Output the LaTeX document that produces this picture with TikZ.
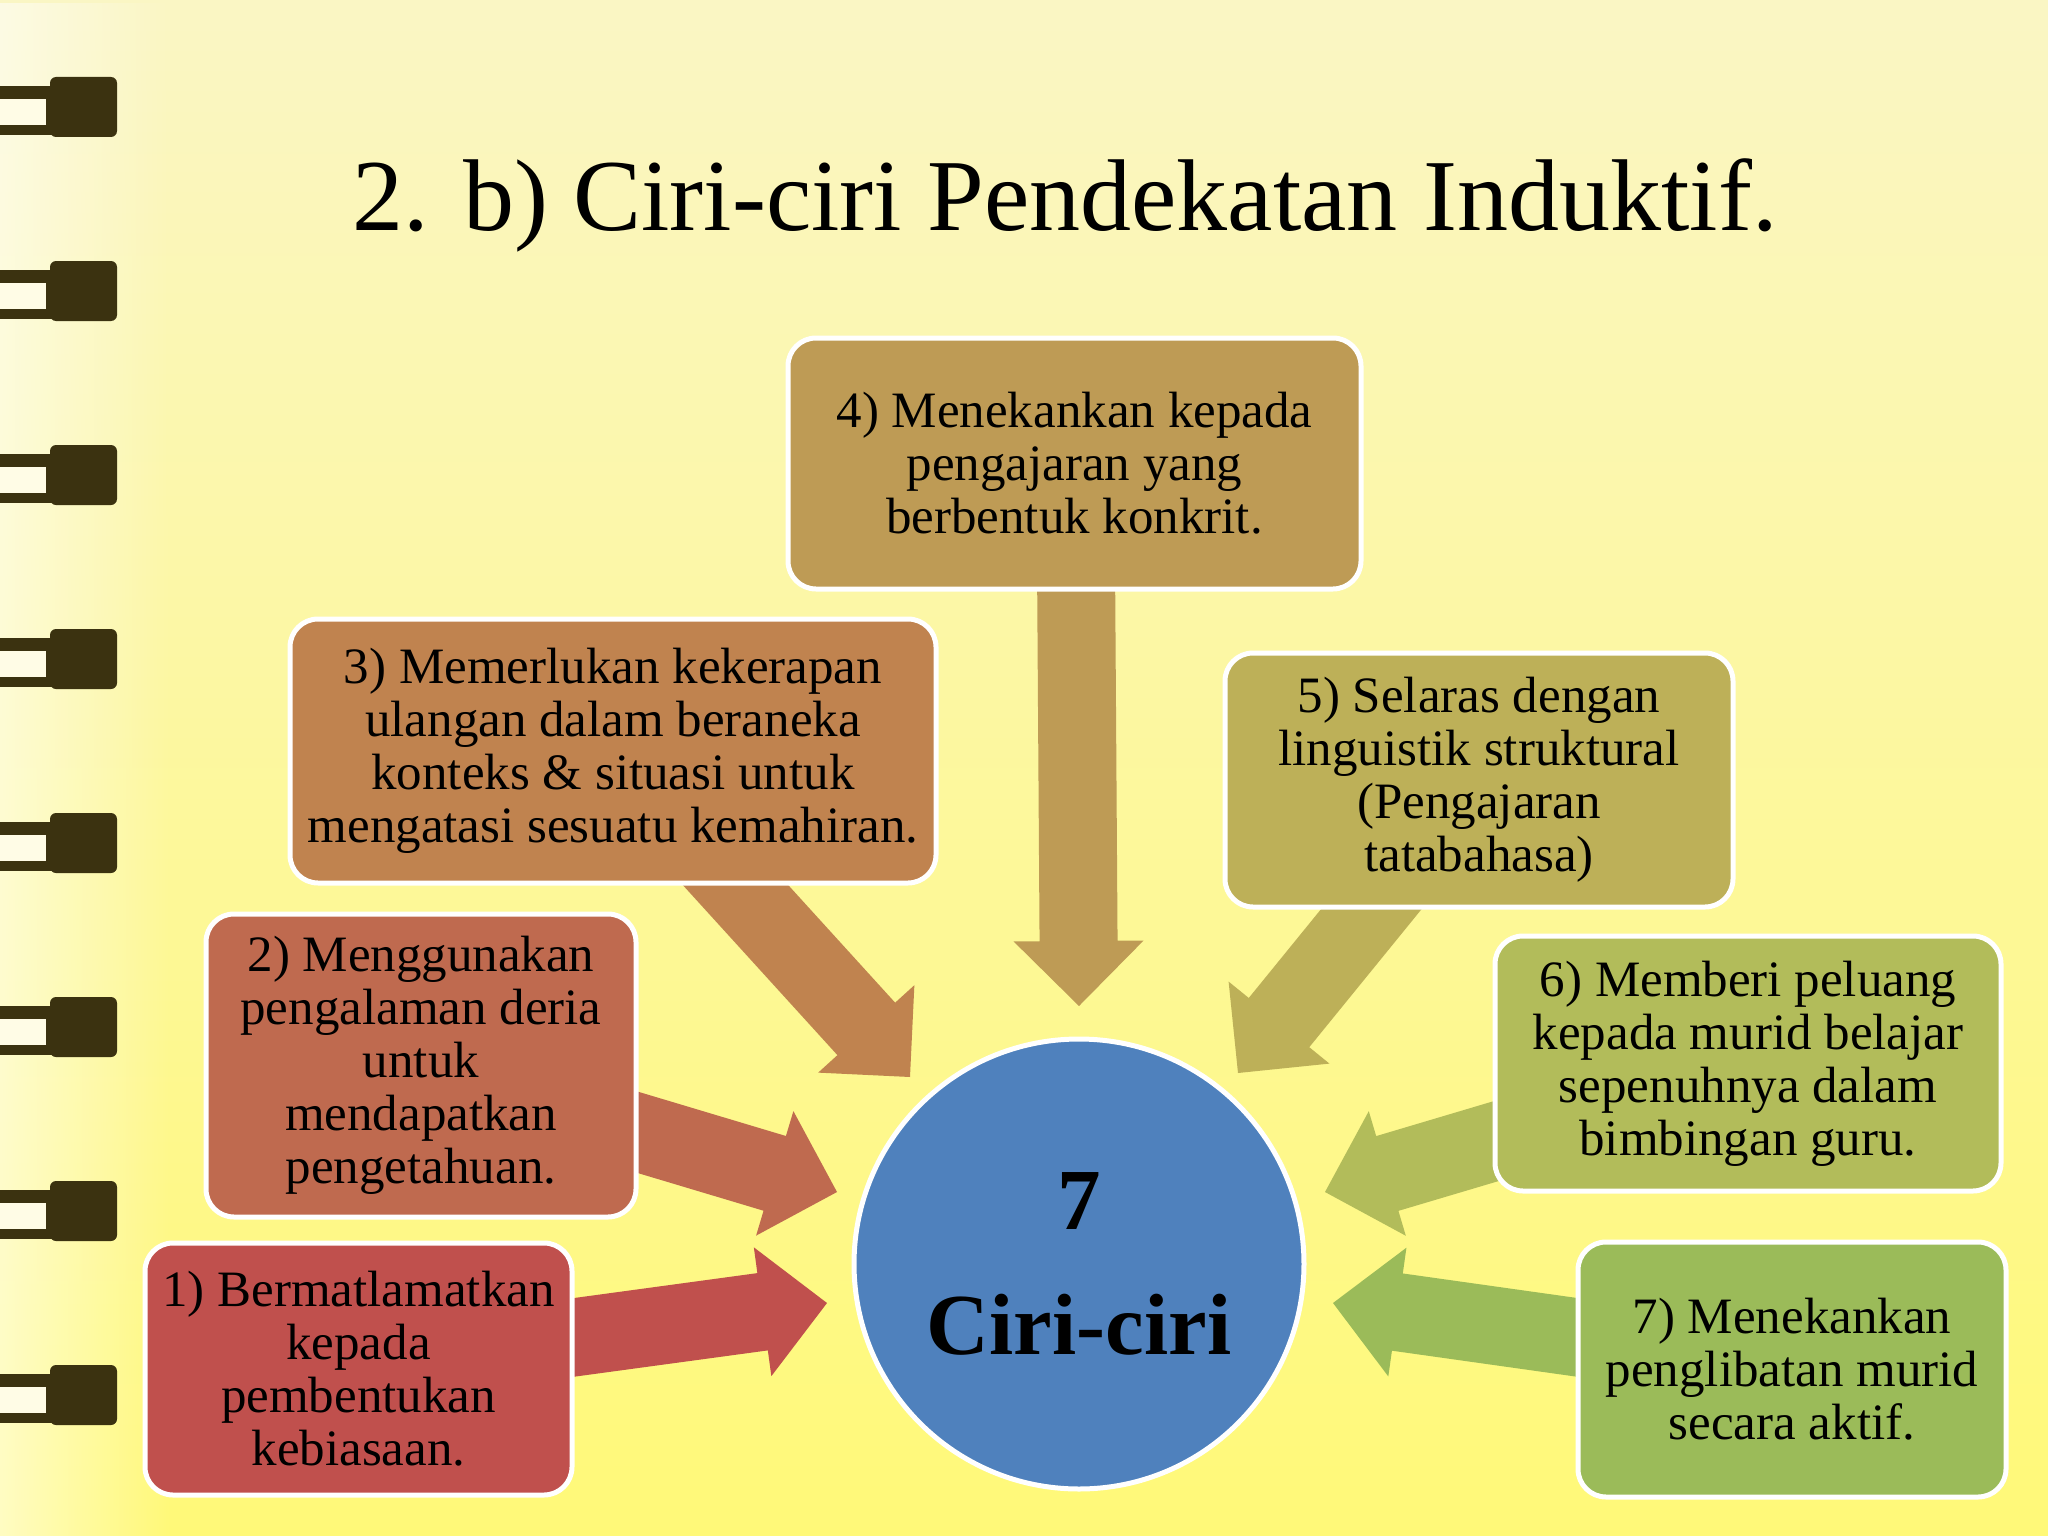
\documentclass[tikz,border=0pt]{standalone}
\usepackage{fontspec}
\setmainfont{Liberation Serif}
\usetikzlibrary{calc,fadings}
\definecolor{bgtop}{HTML}{FAF6C4}
\definecolor{bgbot}{HTML}{FFF978}
\definecolor{ringdark}{HTML}{3B3210}
\definecolor{ringlight}{HTML}{FFFCE6}
\definecolor{cone}{HTML}{C0504D}
\definecolor{ctwo}{HTML}{BF6A4F}
\definecolor{cthree}{HTML}{C0834F}
\definecolor{cfour}{HTML}{BE9B55}
\definecolor{cfive}{HTML}{BDB058}
\definecolor{csix}{HTML}{B2BC5A}
\definecolor{cseven}{HTML}{9BBB59}
\definecolor{cblue}{HTML}{4F81BD}
\tikzfading[name=fadeleft, left color=transparent!0, right color=transparent!100]
\newcommand\blockarrow[3]{%
  \coordinate (bh) at ($(#3)!65pt!(#2)$);
  \fill[#1] ($(#2)!39pt!90:(#3)$) -- ($(bh)!39pt!90:(#3)$) -- ($(bh)!65pt!90:(#3)$) -- (#3)
    -- ($(bh)!65pt!-90:(#3)$) -- ($(bh)!39pt!-90:(#3)$) -- ($(#2)!39pt!-90:(#3)$) -- cycle;
}
\begin{document}
\begin{tikzpicture}[x=1pt,y=-1pt,
  card/.style={rounded corners=28pt, draw=white, line width=5pt, inner sep=0pt,
    align=center, font=\fontsize{51}{53}\selectfont},
  hub/.style={circle, fill=cblue, draw=white, line width=5pt, minimum size=450pt,
    inner sep=0pt, align=center, font=\bfseries\fontsize{87}{125}\selectfont}]
\useasboundingbox (0,0) rectangle (2048,1536);
% background
\shade[top color=bgtop, bottom color=bgbot] (0,0) rectangle (2048,1536);
\fill[white, path fading=fadeleft, opacity=0.55] (0,0) rectangle (170,1536);
% spiral rings
\foreach \c in {108,292,476,660,844,1028,1212,1396} {
  \fill[ringdark, rounded corners=6pt] (50,\c-31) rectangle (117,\c+29);
  \fill[ringdark] (0,\c-22) rectangle (60,\c+27);
  \fill[ringlight] (0,\c-9) rectangle (46,\c+17);
}
% arrow coordinates
\coordinate (t1) at (540,1342); \coordinate (p1) at (827,1303);
\coordinate (t2) at (610,1124); \coordinate (p2) at (837,1192);
\coordinate (t3) at (700,846);  \coordinate (p3) at (910,1077);
\coordinate (t4) at (1076,560); \coordinate (p4) at (1079,1006);
\coordinate (t5) at (1395,880); \coordinate (p5) at (1238,1073);
\coordinate (t6) at (1520,1134); \coordinate (p6) at (1325,1192);
\coordinate (t7) at (1610,1342); \coordinate (p7) at (1333,1303);
\blockarrow{cone}{t1}{p1}
\blockarrow{ctwo}{t2}{p2}
\blockarrow{cthree}{t3}{p3}
\blockarrow{cfour}{t4}{p4}
\blockarrow{cfive}{t5}{p5}
\blockarrow{csix}{t6}{p6}
\blockarrow{cseven}{t7}{p7}
% boxes
\node[card, fill=cone, minimum width=427pt, minimum height=252pt] (b1) at (358.5,1369)
  {1) Bermatlamatkan\\kepada\\pembentukan\\kebiasaan.};
\node[card, fill=ctwo, minimum width=430pt, minimum height=303pt] (b2) at (421,1065.5)
  {2) Menggunakan\\pengalaman deria\\untuk\\mendapatkan\\pengetahuan.};
\node[card, fill=cthree, minimum width=646pt, minimum height=264pt] (b3) at (613,751)
  {3) Memerlukan kekerapan\\ulangan dalam beraneka\\konteks \& situasi untuk\\mengatasi sesuatu kemahiran.};
\node[card, fill=cfour, minimum width=573pt, minimum height=251pt] (b4) at (1074.5,463.5)
  {4) Menekankan kepada\\pengajaran yang\\berbentuk konkrit.};
\node[card, fill=cfive, minimum width=508pt, minimum height=254pt] (b5) at (1479,780)
  {5) Selaras dengan\\linguistik struktural\\(Pengajaran\\tatabahasa)};
\node[card, fill=csix, minimum width=506pt, minimum height=255pt] (b6) at (1748,1063.5)
  {6) Memberi peluang\\kepada murid belajar\\sepenuhnya dalam\\bimbingan guru.};
\node[card, fill=cseven, minimum width=428pt, minimum height=255pt] (b7) at (1792,1369.5)
  {7) Menekankan\\penglibatan murid\\secara aktif.};
% centre
\node[hub] (c) at (1079,1264) {7\\Ciri-ciri};
% title
\node[anchor=base, inner sep=0pt, font=\fontsize{102}{110}\selectfont] (title) at (1065,230)
  {2. b) Ciri-ciri Pendekatan Induktif.};
\end{tikzpicture}
\end{document}
